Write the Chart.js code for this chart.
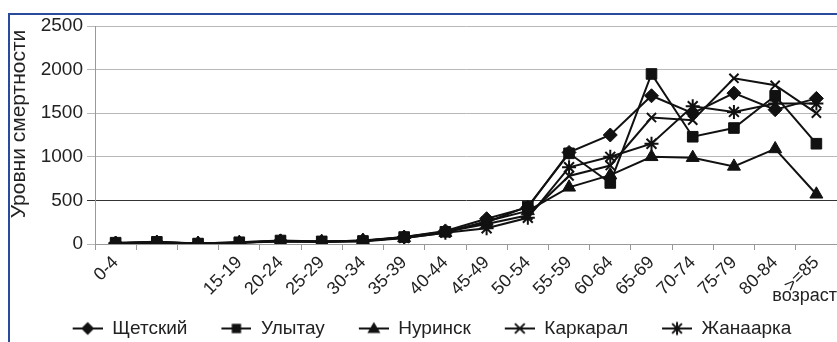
<!DOCTYPE html>
<html>
<head>
<meta charset="utf-8">
<script src="https://cdn.jsdelivr.net/npm/chart.js@4.4.0/dist/chart.umd.min.js"></script>
<style>
  html, body { margin: 0; padding: 0; background: #fff; width: 837px; height: 342px; overflow: hidden; }
  #wrap { position: relative; width: 837px; height: 342px; overflow: hidden; }
  #chart { position: absolute; left: 0; top: 0; }
  #frame { position: absolute; left: 8px; top: 13px; width: 900px; height: 400px;
           border-left: 2px solid #2a4b9b; border-top: 2px solid #2a4b9b; pointer-events: none; }
</style>
</head>
<body>
<div id="wrap">
  <canvas id="chart" width="846" height="348"></canvas>
  <div id="frame"></div>
</div>
<script>
// возрастные группы
const categories = ['0-4', '5-9', '10-14', '15-19', '20-24', '25-29', '30-34', '35-39', '40-44',
                    '45-49', '50-54', '55-59', '60-64', '65-69', '70-74', '75-79', '80-84', '>=85'];
const tickLabels = ['0-4', '', '', '15-19', '20-24', '25-29', '30-34', '35-39', '40-44',
                    '45-49', '50-54', '55-59', '60-64', '65-69', '70-74', '75-79', '80-84', '>=85'];
const yTicks = [0, 500, 1000, 1500, 2000, 2500];

const seriesNames = ['Щетский', 'Улытау', 'Нуринск', 'Каркарал', 'Жанаарка'];
const shchetsky = [10, 20, 5, 15, 35, 25, 40, 80, 150, 290, 420, 1050, 1250, 1700, 1500, 1730, 1540, 1670];
const ulytau    = [15, 25, 5, 20, 40, 30, 35, 80, 140, 250, 430, 1040, 700, 1950, 1230, 1330, 1700, 1150];
const nurinsk   = [5, 15, 5, 15, 30, 25, 40, 70, 130, 260, 380, 650, 790, 1000, 990, 890, 1090, 570];
const karkaral  = [10, 20, 5, 20, 35, 30, 35, 75, 140, 230, 330, 780, 900, 1450, 1420, 1900, 1820, 1500];
const zhanaarka = [10, 20, 5, 15, 35, 25, 30, 70, 130, 180, 300, 880, 1000, 1150, 1580, 1515, 1610, 1610];

const FONT = '"Liberation Sans", Arial, sans-serif';
const INK = '#111';

// значок маркера (для легенды)
function drawMarker(ctx, style, x, y, r) {
    ctx.beginPath();
    if (style === 'rect') {
        ctx.rect(x - r * 0.72, y - r * 0.72, r * 1.44, r * 1.44);
        ctx.fill();
    } else if (style === 'rectRot') {
        ctx.moveTo(x, y - r); ctx.lineTo(x + r, y); ctx.lineTo(x, y + r); ctx.lineTo(x - r, y);
        ctx.closePath(); ctx.fill();
    } else if (style === 'triangle') {
        ctx.moveTo(x, y - r); ctx.lineTo(x + r, y + r * 0.7); ctx.lineTo(x - r, y + r * 0.7);
        ctx.closePath(); ctx.fill();
    } else if (style === 'crossRot') {
        const d = r * 0.75;
        ctx.moveTo(x - d, y - d); ctx.lineTo(x + d, y + d);
        ctx.moveTo(x + d, y - d); ctx.lineTo(x - d, y + d);
        ctx.stroke();
    } else if (style === 'star') {
        const d = r * 0.75;
        ctx.moveTo(x - d, y - d); ctx.lineTo(x + d, y + d);
        ctx.moveTo(x + d, y - d); ctx.lineTo(x - d, y + d);
        ctx.moveTo(x, y - r); ctx.lineTo(x, y + r);
        ctx.stroke();
    }
}

// линия + маркер, слева пустое место = промежуток между элементами легенды
const ICON_W = 56, ICON_LINE = 30;
function makeIcon(style) {
    const c = document.createElement('canvas');
    c.width = ICON_W; c.height = 16;
    const g = c.getContext('2d');
    g.strokeStyle = INK; g.fillStyle = INK; g.lineWidth = 2;
    const x0 = ICON_W - ICON_LINE;
    g.beginPath(); g.moveTo(x0, 8); g.lineTo(ICON_W, 8); g.stroke();
    drawMarker(g, style, x0 + ICON_LINE / 2, 8, 6.5);
    return c;
}

const markers = ['rectRot', 'rect', 'triangle', 'crossRot', 'star'];
const radii = [7, 7.5, 7.5, 6.5, 7];
const icons = markers.map(makeIcon);

const datasets = [shchetsky, ulytau, nurinsk, karkaral, zhanaarka].map((vals, i) => ({
    label: seriesNames[i],
    data: vals,
    borderColor: INK,
    backgroundColor: INK,
    borderWidth: 2,
    pointStyle: markers[i],
    pointRadius: radii[i],
    pointBorderWidth: (markers[i] === 'crossRot' || markers[i] === 'star') ? 2 : 1,
    pointBorderColor: INK,
    pointBackgroundColor: INK,
    tension: 0,
    fill: false
}));

// подпись оси Y
const yTitlePlugin = {
    id: 'yTitle',
    afterDraw(chart) {
        const ctx = chart.ctx;
        ctx.save();
        ctx.translate(19, 124);
        ctx.rotate(-Math.PI / 2);
        ctx.font = '21px ' + FONT;
        ctx.fillStyle = '#222';
        ctx.textAlign = 'center';
        ctx.textBaseline = 'middle';
        ctx.fillText('Уровни смертности', 0, 0);
        ctx.restore();
    }
};

new Chart(document.getElementById('chart'), {
    type: 'line',
    data: { labels: categories, datasets: datasets },
    plugins: [yTitlePlugin],
    options: {
        responsive: false,
        animation: false,
        devicePixelRatio: 1,
        layout: { padding: { top: 26, left: 0, right: 8, bottom: 0 } },
        scales: {
            x: {
                offset: true,
                grid: {
                    offset: true,
                    drawOnChartArea: false,
                    drawTicks: true,
                    tickLength: 6,
                    color: '#999'
                },
                border: { color: '#999', width: 1 },
                ticks: {
                    autoSkip: false,
                    minRotation: 45,
                    maxRotation: 45,
                    color: '#222',
                    font: { family: FONT, size: 18 },
                    padding: 2,
                    callback: (v, i) => tickLabels[i]
                },
                title: {
                    display: true,
                    text: 'возраст',
                    align: 'end',
                    color: '#222',
                    font: { family: FONT, size: 18 },
                    padding: { top: 0, bottom: 4 }
                },
                afterFit: s => { s.height = 67; }
            },
            y: {
                min: 0,
                max: 2500,
                afterBuildTicks: s => { s.ticks = yTicks.map(v => ({ value: v })); },
                grid: {
                    color: c => (c.tick && c.tick.value === 500) ? '#333' : '#b8b8b8',
                    tickLength: 8,
                    lineWidth: 1
                },
                border: { color: '#999', width: 1 },
                ticks: {
                    color: '#222',
                    font: { family: FONT, size: 19 },
                    padding: 4,
                    callback: v => String(v)
                },
                afterFit: s => { s.width = 95; }
            }
        },
        plugins: {
            legend: {
                position: 'bottom',
                labels: {
                    usePointStyle: true,
                    pointStyleWidth: ICON_W,
                    color: '#222',
                    font: { family: FONT, size: 19 },
                    padding: 8,
                    generateLabels(chart) {
                        const items = Chart.defaults.plugins.legend.labels.generateLabels(chart);
                        items.forEach((it, i) => { it.pointStyle = icons[i]; });
                        return items;
                    }
                }
            },
            tooltip: { enabled: false }
        }
    }
});
</script>
</body>
</html>
